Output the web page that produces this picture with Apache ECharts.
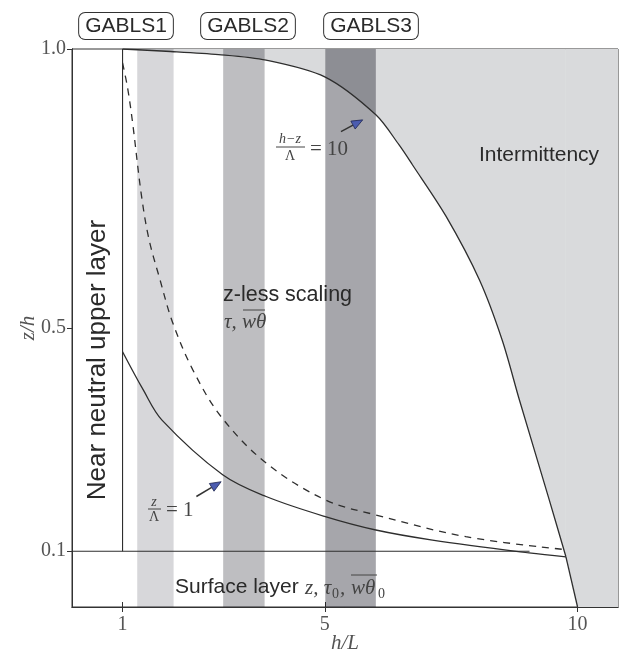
<!DOCTYPE html>
<html><head><meta charset="utf-8">
<script src="https://cdn.jsdelivr.net/npm/echarts@6/dist/echarts.min.js"></script>
<style>html,body{margin:0;padding:0;background:#fff}#c{width:619px;height:655px}</style>
</head><body><div id="c"></div>
<script>
// ---- data ----
const xTicks = [1, 5, 10];
const yTicks = [0.1, 0.5, 1.0];
// (h - z)/Lambda = 10 curve
const upperX = [1.0, 1.86, 2.9, 3.84, 5.0, 6.01, 6.47, 6.73, 7.40, 8.06, 8.51, 8.85, 9.44, 9.77];
const upperY = [1.0, 0.996, 0.99, 0.980, 0.950, 0.882, 0.828, 0.793, 0.700, 0.586, 0.478, 0.371, 0.192, 0.090];
// straight boundary from the curve end down to the axis, then along the axis to the plot edge
const edgeX = [9.77, 10.0, 10.8];
const edgeY = [0.090, 0.0, 0.0];
const plotXMax = 10.8;
// z/Lambda = 1 curve
const lowerX = [1.0, 1.41, 1.78, 2.98, 3.84, 5.01, 6.01, 7.13, 9.04, 9.77];
const lowerY = [0.4575, 0.389, 0.335, 0.237, 0.198, 0.162, 0.138, 0.120, 0.097, 0.090];
// dashed curve
const dashX = [1.0, 1.1, 1.2, 1.37, 1.52, 1.73, 1.99, 2.39, 2.95, 3.84, 5.01, 6.01, 7.79, 9.74];
const dashY = [0.975, 0.93, 0.867, 0.74, 0.66, 0.59, 0.51, 0.425, 0.341, 0.258, 0.192, 0.165, 0.126, 0.103];
// layer boundaries
const neutralBoundaryX = [1, 1];
const neutralBoundaryY = [0.1, 1.0];
const surfaceBoundaryX = [0, 9.05];
const surfaceBoundaryY = [0.1, 0.1];
// GABLS cases (h/L ranges)
const bandNames = ['GABLS1', 'GABLS2', 'GABLS3'];
const bandStart = [1.29, 2.99, 5.01];
const bandEnd = [2.01, 3.81, 6.01];
// annotation arrows
const arrowFromX = [5.32, 2.46];
const arrowFromY = [0.852, 0.198];
const arrowToX = [5.75, 2.95];
const arrowToY = [0.873, 0.2245];

// ---- styles ----
const bandFill = ['rgba(10,10,30,0.165)', 'rgba(0,0,10,0.255)', 'rgba(0,0,15,0.35)'];
const lineColor = '#2e2e2e';
const areaColor = '#d9dadc';
const sans = "'Liberation Sans', Arial, sans-serif";
const serif = "'Liberation Serif', 'DejaVu Serif', serif";
const zip = (a, b) => a.map((v, i) => [v, b[i]]);

const chart = echarts.init(document.getElementById('c'), null, {renderer: 'canvas'});
const upperData = zip(upperX, upperY);
const edgeData = zip(edgeX, edgeY);

const option = {
  animation: false,
  grid: {left: 72, right: 1, top: 49, bottom: 48, show: true, borderColor: '#333', borderWidth: 1,
    containLabel: false, outerBoundsMode: 'none'},
  xAxis: [{
    type: 'value', min: 0, max: plotXMax, position: 'bottom',
    splitLine: {show: false},
    axisLine: {show: true, lineStyle: {color: '#333'}},
    axisTick: {show: true, inside: true, length: 5, customValues: xTicks, lineStyle: {color: '#333'}},
    axisLabel: {show: true, customValues: xTicks, color: '#555', fontFamily: serif, fontSize: 20, margin: 8},
    name: 'h/L', nameLocation: 'middle', nameGap: 26, nameMoveOverlap: false,
    nameTextStyle: {fontFamily: serif, fontStyle: 'italic', fontSize: 21, color: '#555'}
  }, {
    type: 'value', min: 0, max: plotXMax, position: 'top',
    splitLine: {show: false},
    axisLine: {show: true, lineStyle: {color: '#333'}},
    axisTick: {show: true, inside: true, length: 5, customValues: xTicks, lineStyle: {color: '#333'}},
    axisLabel: {show: false}
  }],
  yAxis: [{
    type: 'value', min: 0, max: 1, position: 'left',
    splitLine: {show: false},
    axisLine: {show: true, lineStyle: {color: '#333'}},
    axisTick: {show: true, inside: false, length: 5, customValues: yTicks, lineStyle: {color: '#333'}},
    axisLabel: {show: true, customValues: yTicks, formatter: v => v.toFixed(1), color: '#555', fontFamily: serif, fontSize: 20, margin: 6},
    name: 'z/h', nameLocation: 'middle', nameGap: 33, nameMoveOverlap: false,
    nameTextStyle: {fontFamily: serif, fontStyle: 'italic', fontSize: 21, color: '#555'}
  }, {
    type: 'value', min: 0, max: 1, position: 'right',
    splitLine: {show: false},
    axisLine: {show: true, lineStyle: {color: '#333'}},
    axisTick: {show: false}, axisLabel: {show: false}
  }],
  series: [
    { // intermittency region (curved part)
      type: 'line', data: upperData, showSymbol: false, smooth: 0.3,
      lineStyle: {width: 0}, areaStyle: {origin: 'end', color: areaColor, opacity: 1}, z: 1, silent: true
    },
    { // intermittency region (straight part)
      type: 'line', data: edgeData, showSymbol: false, smooth: false,
      lineStyle: {width: 0}, areaStyle: {origin: 'end', color: areaColor, opacity: 1}, z: 1, silent: true
    },
    { // GABLS bands
      type: 'custom', z: 2, silent: true,
      data: bandStart.map((s, i) => [s, bandEnd[i]]),
      encode: {x: [0, 1]},
      renderItem: (params, api) => {
        const p0 = api.coord([api.value(0), 1]);
        const p1 = api.coord([api.value(1), 0]);
        return {type: 'rect', shape: {x: p0[0], y: p0[1], width: p1[0] - p0[0], height: p1[1] - p0[1]},
          style: {fill: bandFill[params.dataIndex]}};
      }
    },
    {type: 'line', data: upperData, showSymbol: false, smooth: 0.3, z: 3,
      lineStyle: {color: lineColor, width: 1.3}},
    {type: 'line', data: edgeData.slice(0, 2), showSymbol: false, smooth: false, z: 3,
      lineStyle: {color: lineColor, width: 1.3}},
    {type: 'line', data: zip(lowerX, lowerY), showSymbol: false, smooth: 0.35, z: 3,
      lineStyle: {color: lineColor, width: 1.3}},
    {type: 'line', data: zip(dashX, dashY), showSymbol: false, smooth: 0.35, z: 3,
      lineStyle: {color: lineColor, width: 1.3, type: [7, 6]}},
    {type: 'line', data: zip(neutralBoundaryX, neutralBoundaryY), showSymbol: false, z: 3,
      lineStyle: {color: lineColor, width: 1.1}},
    {type: 'line', data: zip(surfaceBoundaryX, surfaceBoundaryY), showSymbol: false, z: 3,
      lineStyle: {color: lineColor, width: 1.1}},
    { // arrows
      type: 'custom', z: 4, silent: true,
      data: arrowFromX.map((x, i) => [x, arrowFromY[i], arrowToX[i], arrowToY[i]]),
      encode: {x: [0, 2], y: [1, 3]},
      renderItem: (params, api) => {
        const a = api.coord([api.value(0), api.value(1)]);
        const b = api.coord([api.value(2), api.value(3)]);
        const ang = Math.atan2(b[1] - a[1], b[0] - a[0]);
        const L = 11, W = 4.5;
        const base = [b[0] - L * Math.cos(ang), b[1] - L * Math.sin(ang)];
        const p1 = [base[0] + W * Math.sin(ang), base[1] - W * Math.cos(ang)];
        const p2 = [base[0] - W * Math.sin(ang), base[1] + W * Math.cos(ang)];
        return {type: 'group', children: [
          {type: 'line', shape: {x1: a[0], y1: a[1], x2: base[0], y2: base[1]}, style: {stroke: '#333', lineWidth: 1.5}},
          {type: 'polygon', shape: {points: [b, p1, p2]}, style: {fill: '#4b5cb0', stroke: '#1d2550', lineWidth: 0.8}}
        ]};
      }
    }
  ],
  graphic: []
};

function txt(x, y, s, font, extra) {
  return {type: 'text', x: x, y: y, z: 100,
    style: Object.assign({text: s, font: font, fill: '#2a2a2a', textAlign: 'left', textVerticalAlign: 'middle',
      align: 'left', verticalAlign: 'middle'}, extra || {})};
}
const g = [];
// GABLS boxes
const boxCx = [126, 248, 371];
bandNames.forEach((n, i) => {
  g.push({type: 'text', x: boxCx[i], y: 26, z: 100, style: {text: n, font: '21px ' + sans, fill: '#2a2a2a',
    textAlign: 'center', align: 'center', textVerticalAlign: 'middle', verticalAlign: 'middle',
    borderColor: '#333', borderWidth: 1, borderRadius: 6, padding: [3, 6, 2, 6], backgroundColor: '#fff'}});
});
g.push(txt(539, 155, 'Intermittency', '21px ' + sans, {textAlign: 'center', align: 'center'}));
g.push(txt(223, 295, 'z-less scaling', '21.5px ' + sans));
g.push(txt(224, 322, 'τ, wθ', 'italic 21px ' + serif, {fill: '#444'}));
g.push({type: 'line', z: 100, shape: {x1: 243, y1: 310, x2: 265, y2: 310}, style: {stroke: '#444', lineWidth: 1}});
g.push(Object.assign(txt(98, 360, 'Near neutral upper layer', '26px ' + sans, {textAlign: 'center', align: 'center'}), {rotation: Math.PI / 2}));
// surface layer label
g.push(txt(175, 587, 'Surface layer', '21px ' + sans));
g.push(txt(305, 588, 'z, τ', 'italic 21px ' + serif, {fill: '#444'}));
g.push(txt(332, 594, '0', '14px ' + serif, {fill: '#444'}));
g.push(txt(340, 588, ',', 'italic 21px ' + serif, {fill: '#444'}));
g.push(txt(351, 588, 'wθ', 'italic 21px ' + serif, {fill: '#444'}));
g.push(txt(378, 594, '0', '14px ' + serif, {fill: '#444'}));
g.push({type: 'line', z: 100, shape: {x1: 351, y1: 575, x2: 377, y2: 575}, style: {stroke: '#444', lineWidth: 1}});
// (h-z)/Lambda = 10
g.push(txt(290, 139, 'h−z', 'italic 14px ' + serif, {fill: '#444', textAlign: 'center', align: 'center'}));
g.push({type: 'line', z: 100, shape: {x1: 276, y1: 147, x2: 305, y2: 147}, style: {stroke: '#444', lineWidth: 1}});
g.push(txt(290, 156, 'Λ', '14px ' + serif, {fill: '#444', textAlign: 'center', align: 'center'}));
g.push(txt(310, 149, '= 10', '21px ' + serif, {fill: '#444'}));
// z/Lambda = 1
g.push(txt(154, 502, 'z', 'italic 14px ' + serif, {fill: '#444', textAlign: 'center', align: 'center'}));
g.push({type: 'line', z: 100, shape: {x1: 148, y1: 509, x2: 161, y2: 509}, style: {stroke: '#444', lineWidth: 1}});
g.push(txt(154, 517, 'Λ', '14px ' + serif, {fill: '#444', textAlign: 'center', align: 'center'}));
g.push(txt(166, 510, '= 1', '21px ' + serif, {fill: '#444'}));
option.graphic = g;
chart.setOption(option);
</script></body></html>
